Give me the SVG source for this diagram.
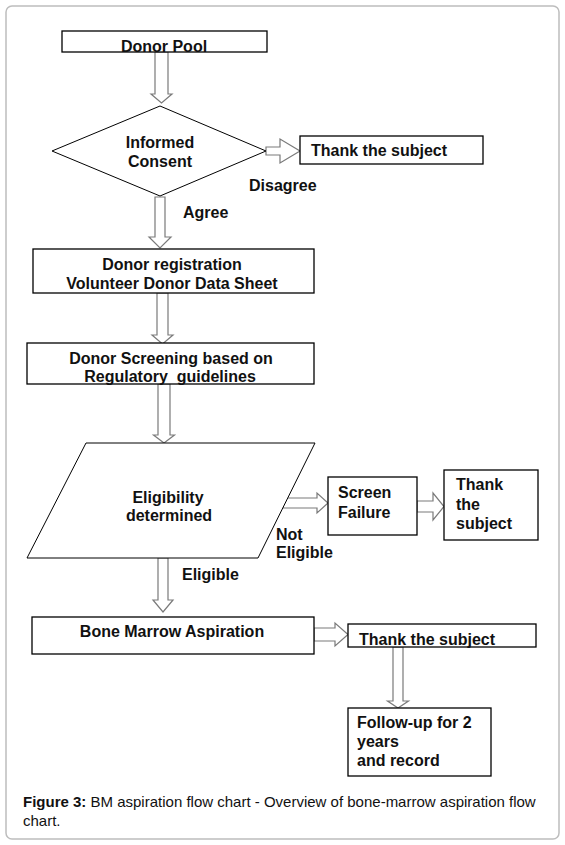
<svg xmlns="http://www.w3.org/2000/svg" width="565" height="845" viewBox="0 0 565 845">
<style>
.box{fill:#fff;stroke:#000;stroke-width:1.3}
.shape{fill:#fff;stroke:#000;stroke-width:1}
.arr{fill:#fff;stroke:#7a7a7a;stroke-width:1.2;stroke-linejoin:miter}
.t{font-family:"Liberation Sans",Arial,sans-serif;font-weight:bold;font-size:16px;fill:#111}
.c{text-anchor:middle}
.cap{font-family:"Liberation Sans",Arial,sans-serif;font-size:15px;fill:#111}
</style>
<rect x="6" y="6" width="553" height="833" rx="6" fill="#fff" stroke="#bdbdbd" stroke-width="1.5"/>
<g id="connectors">
<polygon class="arr" points="155,52 168,52 168,94 172,94 161.5,103 151,94 155,94"/>
<polygon class="arr" points="266,147 280,147 280,139 300,151 280,163 280,155 266,155"/>
<polygon class="arr" points="155,197 165,197 165,237 171,237 160,248 149,237 155,237"/>
<polygon class="arr" points="157,293 168,293 168,335 173,335 162.5,344 152,335 157,335"/>
<polygon class="arr" points="158,384 170,384 170,435 174.5,435 164,443 153.5,435 158,435"/>
<polygon class="arr" points="283,498 317,498 317,493 328,503 317,513 317,508 283,508"/>
<polygon class="arr" points="417,501 433,501 433,493 444,506.5 433,520 433,512 417,512"/>
<polygon class="arr" points="158,558 168,558 168,600 173,600 163,612 153,600 158,600"/>
<polygon class="arr" points="314,628 335,628 335,623 348,634.5 335,646 335,641 314,641"/>
<polygon class="arr" points="393,647 403,647 403,701 408.5,701 398,708 387.5,701 393,701"/>
<text class="t" x="249" y="191">Disagree</text>
<text class="t" x="183" y="218">Agree</text>
<text class="t" x="276" y="540">Not</text>
<text class="t" x="276" y="558">Eligible</text>
<text class="t" x="182" y="580">Eligible</text>
</g>
<g id="donor-pool">
<rect class="box" x="62" y="31" width="205" height="21"/>
<text class="t c" x="164" y="52">Donor Pool</text>
</g>
<g id="informed-consent">
<polygon class="shape" points="160,106 266,151 160,196 52,151"/>
<text class="t c" x="160" y="148">Informed</text>
<text class="t c" x="160" y="167">Consent</text>
</g>
<g id="thank-1">
<rect class="box" x="300" y="136" width="183" height="28"/>
<text class="t" x="311" y="156">Thank the subject</text>
</g>
<g id="donor-registration">
<rect class="box" x="33" y="249" width="281" height="44"/>
<text class="t c" x="172" y="270">Donor registration</text>
<text class="t c" x="172" y="289">Volunteer Donor Data Sheet</text>
</g>
<g id="donor-screening">
<rect class="box" x="27" y="343" width="287" height="41"/>
<text class="t c" x="171" y="364">Donor Screening based on</text>
<text class="t c" x="170" y="382" xml:space="preserve">Regulatory  guidelines</text>
</g>
<g id="eligibility">
<polygon class="shape" points="86,443 315,443 258,558 27,558"/>
<text class="t c" x="168" y="503">Eligibility</text>
<text class="t c" x="169" y="521">determined</text>
</g>
<g id="screen-failure">
<rect class="box" x="328" y="477" width="89" height="58"/>
<text class="t" x="338" y="498">Screen</text>
<text class="t" x="338" y="518">Failure</text>
</g>
<g id="thank-2">
<rect class="box" x="444" y="470" width="94" height="70"/>
<text class="t" x="456" y="490">Thank</text>
<text class="t" x="456" y="510">the</text>
<text class="t" x="456" y="529">subject</text>
</g>
<g id="bone-marrow">
<rect class="box" x="32" y="617" width="282" height="37"/>
<text class="t c" x="172" y="637">Bone Marrow Aspiration</text>
</g>
<g id="thank-3">
<rect class="box" x="348" y="624" width="188" height="23"/>
<text class="t" x="359" y="645">Thank the subject</text>
</g>
<g id="follow-up">
<rect class="box" x="348" y="708" width="143" height="68"/>
<text class="t" x="357" y="728">Follow-up for 2</text>
<text class="t" x="357" y="747">years</text>
<text class="t" x="357" y="766">and record</text>
</g>
<g id="caption">
<text class="cap" x="23" y="807"><tspan font-weight="bold">Figure 3:</tspan> BM aspiration flow chart - Overview of bone-marrow aspiration flow</text>
<text class="cap" x="23" y="826">chart.</text>
</g>
</svg>
